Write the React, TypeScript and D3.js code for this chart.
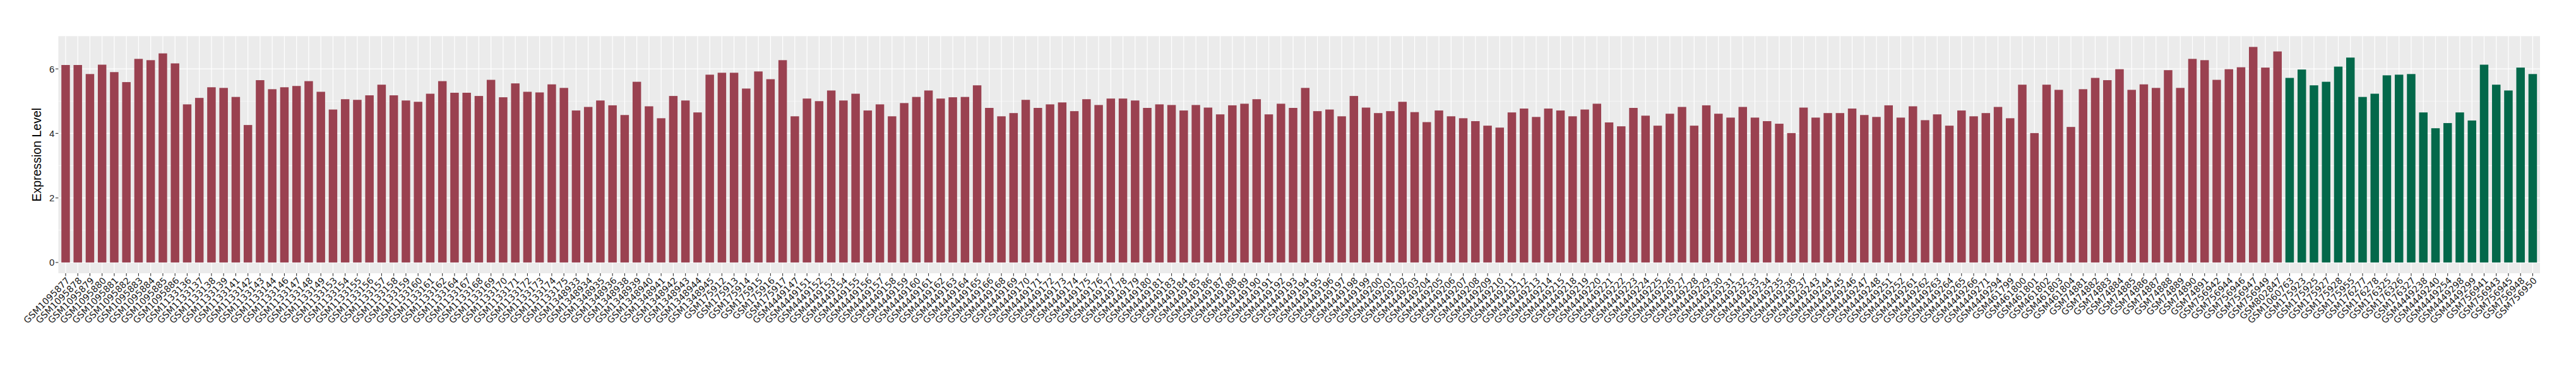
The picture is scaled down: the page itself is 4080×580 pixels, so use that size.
import React from "react";
import * as d3 from "d3";

// Group 1 (red) samples and expression values
const groupASamples: string[] = [
  "GSM1095877","GSM1095878","GSM1095879","GSM1095880","GSM1095881","GSM1095882","GSM1095883","GSM1095884","GSM1095885","GSM1095886",
  "GSM1133136","GSM1133137","GSM1133138","GSM1133139","GSM1133141","GSM1133142","GSM1133143","GSM1133144","GSM1133146","GSM1133147",
  "GSM1133148","GSM1133149","GSM1133153","GSM1133154","GSM1133155","GSM1133156","GSM1133157","GSM1133158","GSM1133159","GSM1133160",
  "GSM1133161","GSM1133162","GSM1133164","GSM1133167","GSM1133168","GSM1133169","GSM1133170","GSM1133171","GSM1133172","GSM1133173",
  "GSM1133174","GSM1133175","GSM1348933","GSM1348934","GSM1348935","GSM1348936","GSM1348938","GSM1348939","GSM1348940","GSM1348941",
  "GSM1348942","GSM1348943","GSM1348944","GSM1348945","GSM175912","GSM175913","GSM175914","GSM175915","GSM175916","GSM175917",
  "GSM4449147","GSM4449151","GSM4449152","GSM4449153","GSM4449154","GSM4449155","GSM4449156","GSM4449157","GSM4449158","GSM4449159",
  "GSM4449160","GSM4449161","GSM4449162","GSM4449163","GSM4449164","GSM4449165","GSM4449166","GSM4449168","GSM4449169","GSM4449170",
  "GSM4449171","GSM4449172","GSM4449173","GSM4449174","GSM4449175","GSM4449176","GSM4449177","GSM4449178","GSM4449179","GSM4449180",
  "GSM4449181","GSM4449183","GSM4449184","GSM4449185","GSM4449186","GSM4449187","GSM4449188","GSM4449189","GSM4449190","GSM4449191",
  "GSM4449192","GSM4449193","GSM4449194","GSM4449195","GSM4449196","GSM4449197","GSM4449198","GSM4449199","GSM4449200","GSM4449201",
  "GSM4449202","GSM4449203","GSM4449204","GSM4449205","GSM4449206","GSM4449207","GSM4449208","GSM4449209","GSM4449210","GSM4449211",
  "GSM4449212","GSM4449213","GSM4449214","GSM4449215","GSM4449218","GSM4449219","GSM4449220","GSM4449221","GSM4449222","GSM4449223",
  "GSM4449224","GSM4449225","GSM4449226","GSM4449227","GSM4449228","GSM4449229","GSM4449230","GSM4449231","GSM4449232","GSM4449233",
  "GSM4449234","GSM4449235","GSM4449236","GSM4449237","GSM4449243","GSM4449244","GSM4449245","GSM4449246","GSM4449247","GSM4449248",
  "GSM4449251","GSM4449252","GSM4449261","GSM4449262","GSM4449263","GSM4449264","GSM4449265","GSM4449266","GSM4449271","GSM4449294",
  "GSM461799","GSM461800","GSM461801","GSM461802","GSM461803","GSM461804","GSM74881","GSM74882","GSM74883","GSM74884",
  "GSM74885","GSM74886","GSM74887","GSM74888","GSM74889","GSM74890","GSM74891","GSM756942","GSM756944","GSM756946",
  "GSM756947","GSM756949","GSM802847"
];
const groupAValues: number[] = [
  6.12,6.12,5.84,6.13,5.90,5.59,6.31,6.27,6.48,6.17,
  4.90,5.10,5.43,5.41,5.13,4.26,5.65,5.37,5.43,5.47,
  5.62,5.29,4.74,5.06,5.04,5.18,5.51,5.18,5.02,4.98,
  5.23,5.62,5.26,5.26,5.16,5.66,5.12,5.55,5.29,5.27,
  5.52,5.41,4.71,4.82,5.02,4.87,4.57,5.60,4.84,4.47,
  5.16,5.02,4.65,5.82,5.88,5.88,5.39,5.92,5.68,6.27,
  4.53,5.08,5.00,5.33,5.02,5.23,4.71,4.90,4.53,4.94,
  5.13,5.33,5.08,5.12,5.13,5.49,4.79,4.53,4.63,5.04,
  4.79,4.90,4.96,4.69,5.06,4.88,5.08,5.08,5.02,4.79,
  4.90,4.88,4.71,4.88,4.80,4.59,4.87,4.92,5.06,4.59,
  4.92,4.79,5.41,4.69,4.74,4.53,5.16,4.80,4.63,4.69,
  4.98,4.66,4.35,4.71,4.53,4.47,4.38,4.24,4.18,4.65,
  4.77,4.51,4.77,4.71,4.53,4.74,4.92,4.34,4.22,4.79,
  4.55,4.24,4.61,4.82,4.24,4.87,4.61,4.49,4.82,4.49,
  4.38,4.30,4.01,4.80,4.49,4.63,4.63,4.77,4.57,4.51,
  4.87,4.49,4.84,4.41,4.59,4.24,4.71,4.53,4.63,4.82,
  4.47,5.51,4.01,5.51,5.35,4.20,5.37,5.72,5.65,5.99,
  5.35,5.52,5.41,5.96,5.41,6.31,6.27,5.66,5.99,6.05,
  6.68,6.04,6.54
];

// Group 2 (green) samples and expression values
const groupBSamples: string[] = [
  "GSM1060763","GSM175923","GSM175925","GSM175927","GSM175928","GSM175955","GSM176277","GSM176278","GSM176325","GSM176326",
  "GSM176327","GSM4449238","GSM4449240","GSM4449254","GSM4449298","GSM4449299","GSM756941","GSM756943","GSM756945","GSM756948",
  "GSM756950"
];
const groupBValues: number[] = [
  5.72,5.98,5.49,5.60,6.07,6.35,5.13,5.23,5.80,5.82,
  5.84,4.65,4.16,4.32,4.65,4.40,6.13,5.51,5.33,6.04,
  5.84
];

const yTicks: number[] = [0, 2, 4, 6];
const yTitle = "Expression Level";

const colorA = "#9A4150";
const colorB = "#03684A";

export default function App() {
  const W = 4080, H = 580;
  const left = 92.4, right = 4023, top = 57.3, bottom = 433;

  const samples = [...groupASamples, ...groupBSamples];
  const rows = [
    ...groupASamples.map((s, i) => ({ s, v: groupAValues[i], c: colorA })),
    ...groupBSamples.map((s, i) => ({ s, v: groupBValues[i], c: colorB })),
  ];
  const vmax = d3.max(rows, (d) => d.v) as number;

  const x = d3.scalePoint<string>().domain(samples).range([left, right]).padding(0.6);
  const y = d3.scaleLinear().domain([-0.05 * vmax, 1.05 * vmax]).range([bottom, top]);
  const step = x.step();
  const bw = step * 0.7;

  const minor = d3.range(1, 7, 2);

  return (
    <svg width={W} height={H} style={{ position: "absolute", left: 0, top: 0, background: "#fff" }}>
      <rect x={left} y={top} width={right - left} height={bottom - top} fill="#EBEBEB" />
      {minor.map((t) => (
        <line key={"mn" + t} x1={left} x2={right} y1={y(t)} y2={y(t)} stroke="#fff" strokeWidth={0.6} />
      ))}
      {yTicks.map((t) => (
        <line key={"mj" + t} x1={left} x2={right} y1={y(t)} y2={y(t)} stroke="#fff" strokeWidth={1.2} />
      ))}
      {samples.map((s) => (
        <line key={"vg" + s} x1={x(s)} x2={x(s)} y1={top} y2={bottom} stroke="#fff" strokeWidth={1.2} />
      ))}
      {rows.map((d) => (
        <rect key={"b" + d.s} x={(x(d.s) as number) - bw / 2} y={y(d.v)} width={bw} height={y(0) - y(d.v)} fill={d.c} />
      ))}
      {yTicks.map((t) => (
        <g key={"yt" + t}>
          <line x1={left - 4.5} x2={left} y1={y(t)} y2={y(t)} stroke="#333" strokeWidth={1.1} />
          <text x={left - 6} y={y(t)} dy="0.36em" textAnchor="end" fontFamily="Liberation Sans, Arial, sans-serif" fontSize={15} fill="#222">{t}</text>
        </g>
      ))}
      {samples.map((s) => (
        <g key={"xt" + s}>
          <line x1={x(s)} x2={x(s)} y1={bottom} y2={bottom + 4.5} stroke="#333" strokeWidth={1.1} />
          <text
            transform={`translate(${x(s)},${bottom + 5}) rotate(-45)`}
            dy="0.74em"
            textAnchor="end"
            fontFamily="DejaVu Sans, sans-serif"
            fontSize={14.3}
            fill="#1a1a1a"
          >{s}</text>
        </g>
      ))}
      <text
        transform={`translate(${65},${(top + bottom) / 2}) rotate(-90)`}
        textAnchor="middle"
        fontFamily="Liberation Sans, Arial, sans-serif"
        fontSize={19.5}
        fill="#000"
      >{yTitle}</text>
    </svg>
  );
}
